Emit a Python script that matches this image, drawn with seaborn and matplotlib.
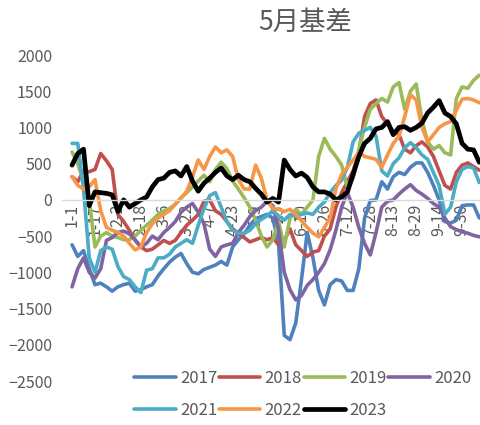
import numpy as np
import pandas as pd
import matplotlib
matplotlib.use("Agg")
import matplotlib.pyplot as plt
import seaborn as sns

# -- Data: May contract basis, sampled every 4 days from Jan 1 --
days = np.arange(0, 288, 4)

tick_days = [0, 16, 32, 48, 64, 80, 96, 112, 128, 144, 160, 176, 192, 208, 224, 240, 256, 272]
tick_labels = ["1-1", "1-17", "2-2", "2-18", "3-6", "3-22", "4-7", "4-23", "5-9",
               "5-25", "6-10", "6-26", "7-12", "7-28", "8-13", "8-29", "9-14", "9-30"]

years = ["2017", "2018", "2019", "2020", "2021", "2022", "2023"]
colors = ["#4F81BD", "#C0504D", "#9BBB59", "#8064A2", "#4BACC6", "#F79646", "#000000"]

basis_2017 = [
    -620, -780, -700, -950, -1170, -1150, -1200, -1260, -1200, -1170,
    -1150, -1260, -1240, -1200, -1170, -1050, -950, -860, -790, -740,
    -880, -1000, -1020, -960, -930, -900, -850, -900, -650, -550,
    -470, -350, -260, -230, -200, -250, -600, -1870, -1930, -1700,
    -1100, -450, -800, -1250, -1450, -1170, -1100, -1120, -1250, -1250,
    -950, -250, -10, 0, 250, 150, 320, 380, 350, 450,
    510, 510, 380, 200, 0, -300, -320, -280, -80, -70,
    -70, -250,
]
basis_2018 = [
    320, 250, 400, 390, 420, 640, 540, 420, -200, -300,
    -420, -560, -650, -700, -680, -620, -560, -600, -560, -450,
    -350, -280, -200, -20, 0, -150, -200, -300, -400, -460,
    -520, -580, -550, -520, -550, -520, -620, -560, -400, -620,
    -700, -780, -720, -700, -500, -400, -100, 100, 250, 400,
    650, 1150, 1330, 1380, 1150, 1050, 950, 900, 700, 650,
    750, 800, 730, 600, 400, 200, 150, 380, 480, 510,
    460, 410,
]
basis_2019 = [
    660, 500, 250, 0, -650, -500, -450, -500, -520, -550,
    -550, -500, -420, -350, -280, -200, -150, -120, -60, 30,
    100, 180, 260, 340, 250, 420, 520, 430, 260, 150,
    30, -100, -280, -500, -650, -550, -300, -650, -250, -130,
    -200, -100, 0, 600, 850, 700, 600, 480, 180, 300,
    700, 1000, 1250, 1330, 1400, 1350, 1560, 1620, 1250, 1500,
    1600, 1100, 800, 700, 750, 650, 620, 1400, 1560, 1540,
    1650, 1720,
]
basis_2020 = [
    -1200, -950, -800, -1000, -1080, -950, -560, -520, -450, -430,
    -470, -550, -650, -600, -500, -550, -450, -380, -300, -170,
    -100, -50, -170, -330, -680, -780, -650, -620, -600, -450,
    -350, -230, -150, -100, -20, -80, -400, -1000, -1240, -1380,
    -1320, -1180, -1100, -1000, -880, -690, -420, -100, 100, -100,
    -380, -600, -760, -450, -100, -20, 0, 80, 150, 210,
    130, 80, 20, -50, -100, -250, -370, -410, -440, -460,
    -490, -510,
]
basis_2021 = [
    780, 780, 150, -800, -1000, -700, -650, -680, -920, -1060,
    -1100, -1200, -1280, -970, -950, -800, -800, -750, -650, -600,
    -550, -600, -350, -120, 60, 100, -100, -300, -420, -460,
    -460, -420, -330, -270, -220, -150, -220, -280, -200, -230,
    -200, -180, -200, -100, -30, 100, 200, 270, 450, 800,
    920, 960, 1000, 880, 400, 330, 500, 580, 720, 790,
    720, 620, 560, 380, 200, -200, -100, 250, 420, 460,
    440, 240,
]
basis_2022 = [
    320, 200, 150, 180, 280, -150, -380, -420, -450, -500,
    -600, -690, -650, -450, -330, -250, -200, -150, -60, 20,
    120, 320, 550, 420, 600, 730, 650, 690, 600, 280,
    150, 150, 480, 300, 0, -120, -130, -160, -130, -200,
    -290, -380, -460, -510, -380, -250, 150, 350, 450, 550,
    650, 600, 580, 560, 450, 620, 780, 880, 1150, 1450,
    1380, 1000, 800, 900, 1000, 1050, 1080, 1240, 1390, 1400,
    1380, 1340,
]
basis_2023 = [
    480, 640, 700, -80, 110, 100, 90, 70, -160, 0,
    -100, -50, 0, 40, 180, 280, 300, 380, 400, 330,
    460, 260, 120, 230, 300, 380, 440, 330, 280, 340,
    280, 250, 160, 80, -30, 20, -30, 550, 420, 330,
    370, 310, 180, 110, 110, 80, 0, 40, 110, 350,
    600, 780, 850, 980, 1000, 1080, 900, 1000, 1010, 960,
    1000, 1060, 1200, 1280, 1370, 1200, 1150, 1050, 780, 700,
    690, 520,
]

series = [basis_2017, basis_2018, basis_2019, basis_2020, basis_2021, basis_2022, basis_2023]


def main():
    df = pd.concat(
        [pd.DataFrame({"day": days, "basis": vals, "year": yr}) for yr, vals in zip(years, series)],
        ignore_index=True,
    )

    sns.set_theme(style="white")
    plt.rcParams["font.family"] = ["Noto Sans CJK SC", "DejaVu Sans"]
    grey = "#595959"

    fig = plt.figure(figsize=(4.8, 4.25), dpi=100)
    ax = fig.add_axes([62 / 480, 44 / 425, 418 / 480, 326 / 425])

    for yr, col in zip(years, colors):
        sns.lineplot(
            data=df[df["year"] == yr], x="day", y="basis", ax=ax,
            color=col, lw=3.4 if yr == "2023" else 2.6, label=yr,
            estimator=None, legend=False,
            solid_joinstyle="round", solid_capstyle="round",
        )

    ax.set_xlim(-7, 284.5)
    ax.set_ylim(-2500, 2000)
    ax.set_yticks(range(-2500, 2001, 500))
    ax.set_xticks(tick_days, tick_labels)
    ax.set_xlabel("")
    ax.set_ylabel("")
    for side in ["left", "right", "top"]:
        ax.spines[side].set_visible(False)
    ax.spines["bottom"].set_position(("data", 0))
    ax.spines["bottom"].set_color("#D9D9D9")
    ax.spines["bottom"].set_linewidth(1)
    ax.tick_params(axis="x", length=0, pad=3, labelsize=11.5, labelcolor=grey,
                   labelrotation=90)
    ax.tick_params(axis="y", length=0, pad=7, labelsize=11.5, labelcolor=grey)
    ax.grid(False)

    lines = {l.get_label(): l for l in ax.get_lines()}
    # column-major fill -> row-major look
    order = ["2017", "2021", "2018", "2022", "2019", "2023", "2020"]
    fig.legend(
        [lines[y] for y in order], order,
        loc="upper left", bbox_to_anchor=(134 / 480, 1 - 370 / 425),
        ncol=4, frameon=False, fontsize=12, labelcolor=grey,
        handlelength=2.5, handletextpad=0.25, columnspacing=0.1,
        labelspacing=0.9, borderaxespad=0, borderpad=0,
    )

    fig.text(305 / 480, 1 - 22 / 425, "5月基差", ha="center", va="center",
             fontsize=19, color=grey, fontweight="light")

    fig.savefig("out.png", dpi=100)
    plt.close(fig)


if __name__ == "__main__":
    main()
